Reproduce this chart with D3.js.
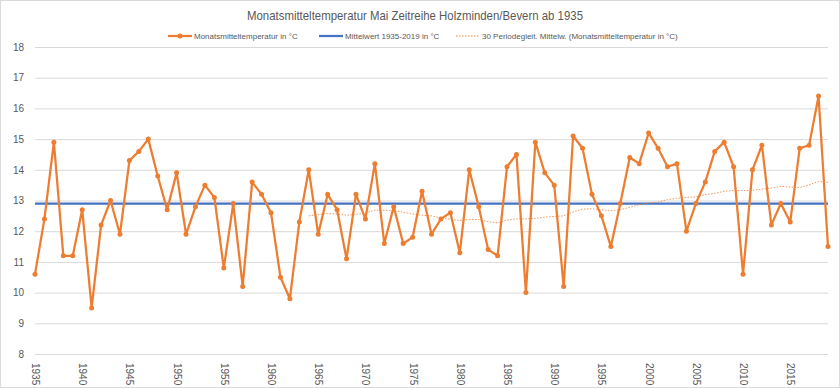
<!DOCTYPE html>
<html>
<head>
<meta charset="utf-8">
<script src="https://cdn.jsdelivr.net/npm/d3@7"></script>
<style>
    body { margin: 0; background: #fff; }
    #chart-area { width: 840px; height: 388px; }
    text { font-family: "Liberation Sans Narrow", "Liberation Sans", sans-serif; fill: #595959; }
</style>
</head>
<body>
<div id="chart-area"></div>
<script>

// data (May mean temperature, Holzminden/Bevern)
const years = d3.range(1935, 2020);
const tickYears = [1935, 1940, 1945, 1950, 1955, 1960, 1965, 1970, 1975, 1980, 1985, 1990, 1995, 2000, 2005, 2010, 2015];
const yTicks = [8, 9, 10, 11, 12, 13, 14, 15, 16, 17, 18];

const temps = [
    10.6, 12.4, 14.9, 11.2, 11.2, 12.7, 9.5, 12.2, 13.0, 11.9,
    14.3, 14.6, 15.0, 13.8, 12.7, 13.9, 11.9, 12.8, 13.5, 13.1,
    10.8, 12.9, 10.2, 13.6, 13.2, 12.6, 10.5, 9.8, 12.3, 14.0,
    11.9, 13.2, 12.7, 11.1, 13.2, 12.4, 14.2, 11.6, 12.8, 11.6,
    11.8, 13.3, 11.9, 12.4, 12.6, 11.3, 14.0, 12.8, 11.4, 11.2,
    14.1, 14.5, 10.0, 14.9, 13.9, 13.5, 10.2, 15.1, 14.7, 13.2,
    12.5, 11.5, 12.9, 14.4, 14.2, 15.2, 14.7, 14.1, 14.2, 12.0,
    12.9, 13.6, 14.6, 14.9, 14.1, 10.6, 14.0, 14.8, 12.2, 12.9,
    12.3, 14.7, 14.8, 16.4, 11.5
];

const meanTemp = 12.9;

// 30 period moving average, read from 1964 on
const maStartYear = 1964;
const maValues = [
    12.50, 12.54, 12.58, 12.56, 12.52, 12.55, 12.59, 12.69, 12.68, 12.67,
    12.62, 12.56, 12.52, 12.50, 12.43, 12.39, 12.35, 12.38, 12.38, 12.31,
    12.27, 12.36, 12.40, 12.40, 12.42, 12.46, 12.48, 12.50, 12.63, 12.72,
    12.73, 12.70, 12.67, 12.70, 12.78, 12.86, 12.92, 12.95, 13.03, 13.07,
    13.10, 13.12, 13.19, 13.23, 13.30, 13.33, 13.32, 13.33, 13.37, 13.41,
    13.46, 13.44, 13.42, 13.51, 13.62, 13.59
];

const legendLabels = [
    "Monatsmitteltemperatur in °C",
    "Mittelwert 1935-2019 in °C",
    "30 Periodegleit. Mittelw. (Monatsmitteltemperatur in °C)"
];

class LineChart {

    constructor(parentElement) {
        this.parentElement = parentElement;
        this.orange = "#ED7D31";
        this.blue = "#4472C4";
        this.initVis();
    }

    initVis() {
        let vis = this;

        vis.margin = {top: 47, right: 12, bottom: 34, left: 35};
        vis.totalWidth = 840;
        vis.totalHeight = 388;
        vis.width = vis.totalWidth - vis.margin.left - vis.margin.right;
        vis.height = vis.totalHeight - vis.margin.top - vis.margin.bottom;

        vis.root = d3.select("#" + vis.parentElement).append("svg")
            .attr("width", vis.totalWidth)
            .attr("height", vis.totalHeight);

        // chart border
        vis.root.append("rect")
            .attr("x", 0.5).attr("y", 0.5)
            .attr("width", vis.totalWidth - 1).attr("height", vis.totalHeight - 1)
            .attr("fill", "#fff")
            .attr("stroke", "#d9d9d9");

        // title (squeezed a bit, the original font is narrower)
        vis.root.append("text")
            .attr("x", 415).attr("y", 20)
            .attr("text-anchor", "middle")
            .attr("textLength", 336)
            .attr("lengthAdjust", "spacingAndGlyphs")
            .style("font-size", "13.5px")
            .text("Monatsmitteltemperatur Mai Zeitreihe Holzminden/Bevern ab 1935");

        vis.svg = vis.root.append("g")
            .attr("transform", "translate(" + vis.margin.left + "," + vis.margin.top + ")");

        // scales
        vis.x = d3.scalePoint()
            .domain(years)
            .range([0, vis.width]);

        vis.y = d3.scaleLinear()
            .domain([8, 18])
            .range([vis.height, 0]);

        // grid lines
        vis.svg.append("g")
            .attr("class", "grid")
            .call(d3.axisLeft(vis.y).tickValues(yTicks).tickSize(-vis.width).tickFormat(""))
            .call(g => g.select(".domain").remove())
            .call(g => g.selectAll("line").attr("stroke", "#d9d9d9"));

        // y axis labels
        vis.svg.append("g")
            .call(d3.axisLeft(vis.y).tickValues(yTicks).tickSize(0).tickPadding(11))
            .call(g => g.select(".domain").remove())
            .call(g => g.selectAll("text")
                .style("font-size", "10px")
                .style("font-family", "'Liberation Sans', sans-serif"));

        // x axis labels, rotated
        vis.svg.append("g")
            .attr("transform", "translate(0," + vis.height + ")")
            .call(d3.axisBottom(vis.x).tickValues(tickYears).tickSize(0))
            .call(g => g.select(".domain").remove())
            .call(g => g.selectAll("text")
                .style("font-size", "10px")
                .style("font-family", "'Liberation Sans', sans-serif")
                .attr("text-anchor", "start")
                .attr("dy", "0.35em")
                .attr("transform", "translate(0,9) rotate(90)")
                .attr("y", 0)
                .attr("x", 0));

        vis.line = d3.line()
            .x(d => vis.x(d.year))
            .y(d => vis.y(d.value));

        vis.drawLegend();
        vis.wrangleData();
    }

    drawLegend() {
        let vis = this;
        let legend = vis.root.append("g").attr("class", "legend");
        let items = [
            {x: 168, color: vis.orange, width: 2.25, dash: null, marker: true},
            {x: 319, color: vis.blue, width: 2.25, dash: null, marker: false},
            {x: 456, color: vis.orange, width: 1, dash: "1.5,1.5", marker: false}
        ];
        items.forEach((it, i) => {
            legend.append("line")
                .attr("x1", it.x).attr("x2", it.x + 24)
                .attr("y1", 36).attr("y2", 36)
                .attr("stroke", it.color)
                .attr("stroke-width", it.width)
                .attr("stroke-dasharray", it.dash);
            if (it.marker) {
                legend.append("circle")
                    .attr("cx", it.x + 12).attr("cy", 36).attr("r", 2.5)
                    .attr("fill", it.color);
            }
            legend.append("text")
                .attr("x", it.x + 26).attr("y", 36)
                .attr("dy", "0.35em")
                .style("font-size", "8px")
                .text(legendLabels[i]);
        });
    }

    wrangleData() {
        let vis = this;

        vis.tempData = years.map((yr, i) => ({year: yr, value: temps[i]}));
        vis.meanData = [
            {year: years[0], value: meanTemp},
            {year: years[years.length - 1], value: meanTemp}
        ];
        vis.maData = maValues.map((v, i) => ({year: maStartYear + i, value: v}));

        vis.updateVis();
    }

    updateVis() {
        let vis = this;

        // mean line
        vis.svg.append("path")
            .datum(vis.meanData)
            .attr("d", vis.line)
            .attr("fill", "none")
            .attr("stroke", vis.blue)
            .attr("stroke-width", 2.25);

        // temperature line
        vis.svg.append("path")
            .datum(vis.tempData)
            .attr("d", vis.line)
            .attr("fill", "none")
            .attr("stroke", vis.orange)
            .attr("stroke-width", 2.25)
            .attr("stroke-linejoin", "round");

        vis.svg.selectAll(".dot")
            .data(vis.tempData)
            .enter()
            .append("circle")
            .attr("class", "dot")
            .attr("cx", d => vis.x(d.year))
            .attr("cy", d => vis.y(d.value))
            .attr("r", 2.5)
            .attr("fill", vis.orange);

        // moving average
        vis.svg.append("path")
            .datum(vis.maData)
            .attr("d", vis.line)
            .attr("fill", "none")
            .attr("stroke", vis.orange)
            .attr("stroke-opacity", 0.8)
            .attr("stroke-width", 1)
            .attr("stroke-dasharray", "1.5,1.5");
    }
}

new LineChart("chart-area");
</script>
</body>
</html>
